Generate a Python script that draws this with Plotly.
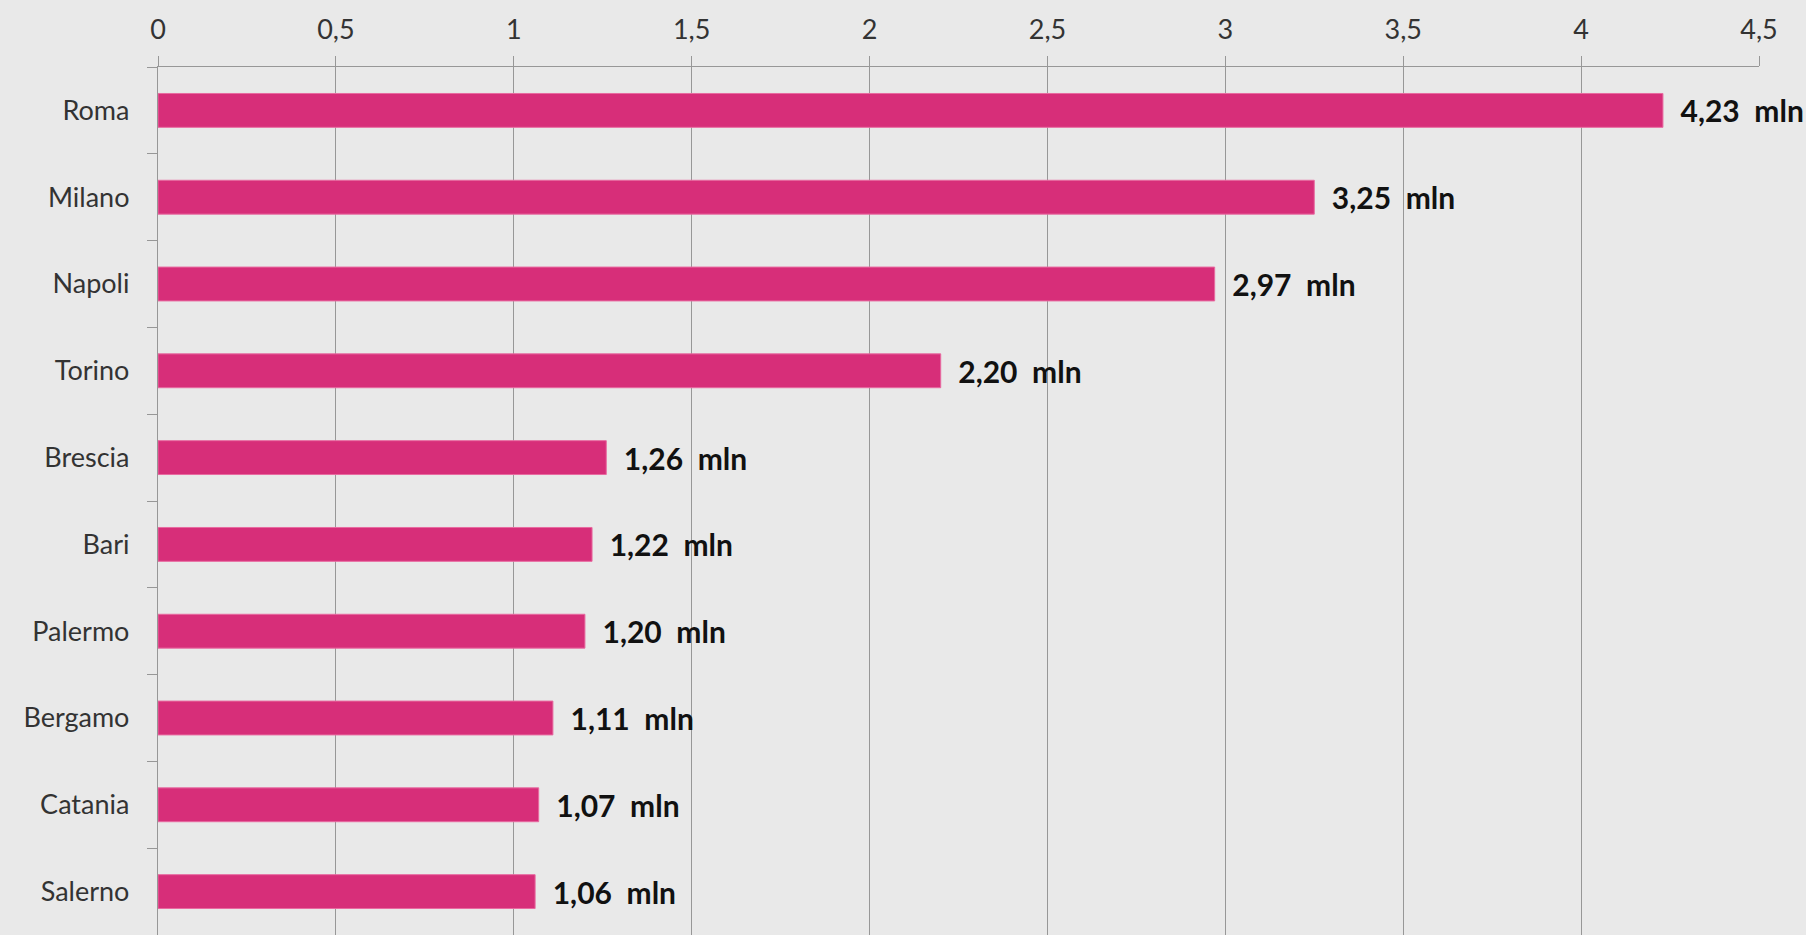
import plotly.graph_objects as go

cities = ["Roma", "Milano", "Napoli", "Torino", "Brescia", "Bari", "Palermo", "Bergamo", "Catania", "Salerno"]
values = [4.23, 3.25, 2.97, 2.20, 1.26, 1.22, 1.20, 1.11, 1.07, 1.06]
x_ticks = [0, 0.5, 1, 1.5, 2, 2.5, 3, 3.5, 4, 4.5]
x_tick_labels = ["0", "0,5", "1", "1,5", "2", "2,5", "3", "3,5", "4", "4,5"]

labels = ["\u00a0\u00a0" + f"{v:.2f}".replace(".", ",") + "\u00a0\u00a0mln" for v in values]

fig = go.Figure(go.Bar(
    y=cities, x=values, orientation="h",
    marker=dict(color="#d72e79", line=dict(color="#e86aa0", width=1)),
    text=labels, textposition="outside", cliponaxis=False, constraintext="none",
    textfont=dict(family="Lato", size=30, color="#111111", weight="bold"),
    hoverinfo="skip",
))

fig.update_layout(
    width=1806, height=935,
    margin=dict(l=158, r=47, t=67, b=0),
    paper_bgcolor="#e9e9e9", plot_bgcolor="#e9e9e9",
    bargap=0.61, showlegend=False,
    separators=",.",
)
fig.update_xaxes(
    side="top", range=[0, 4.5], tickvals=x_ticks, ticktext=x_tick_labels,
    showgrid=True, gridcolor="#979797", gridwidth=1.3,
    showline=True, linecolor="#979797", linewidth=1.3,
    ticks="outside", ticklen=10, tickcolor="#979797", tickwidth=1.3,
    tickfont=dict(family="Lato", size=27, color="#333333"),
    ticklabelstandoff=6,
    zeroline=False, fixedrange=True,
)
fig.update_yaxes(
    type="category", autorange="reversed", tickson="boundaries",
    showgrid=False, showline=True, linecolor="#979797", linewidth=1.3,
    ticks="outside", ticklen=10, tickcolor="#979797", tickwidth=1.3,
    tickfont=dict(family="Lato", size=27, color="#333333"),
    ticklabelstandoff=22, fixedrange=True,
)

fig.write_html(
    "out.html",
    config={"displayModeBar": False},
    post_script="document.body.style.margin='0';document.body.style.background='#e9e9e9';",
)
